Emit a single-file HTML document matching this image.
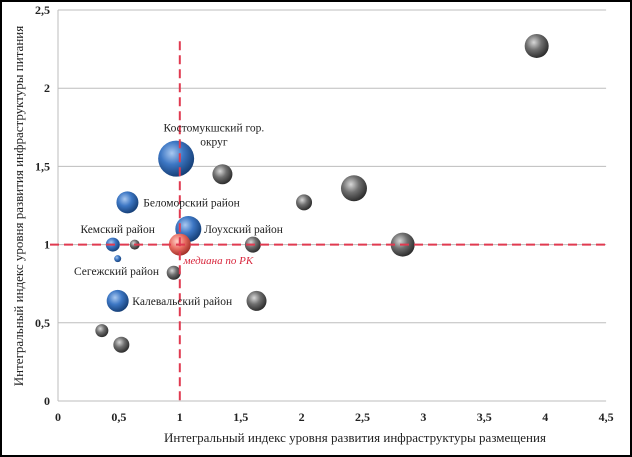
<!DOCTYPE html>
<html><head><meta charset="utf-8">
<style>
html,body{margin:0;padding:0;background:#fff;}
svg{display:block;font-family:"Liberation Serif",serif;}
</style></head>
<body>
<svg id="chart" width="632" height="457" viewBox="0 0 632 457" xmlns="http://www.w3.org/2000/svg">
<defs>
<radialGradient id="gBlue" cx="0.38" cy="0.35" r="0.7">
<stop offset="0" stop-color="#a9c8f0"/><stop offset="0.45" stop-color="#3d77c4"/><stop offset="1" stop-color="#123a70"/></radialGradient>
<radialGradient id="gGrey" cx="0.38" cy="0.35" r="0.7">
<stop offset="0" stop-color="#d8d8d8"/><stop offset="0.45" stop-color="#707070"/><stop offset="1" stop-color="#262626"/></radialGradient>
<radialGradient id="gRed" cx="0.38" cy="0.35" r="0.7">
<stop offset="0" stop-color="#ffd0c8"/><stop offset="0.5" stop-color="#e86b60"/><stop offset="1" stop-color="#9a2a22"/></radialGradient>
</defs>
<rect x="1" y="1" width="630" height="455" fill="#fff" stroke="#000" stroke-width="2"/>
<g id="grid"></g>
<g id="axes"></g>
<g id="bubbles"></g>
<g id="labels"></g>
<text x="355" y="442" font-size="13" text-anchor="middle" fill="#222">Интегральный индекс уровня развития инфраструктуры размещения</text>
<text transform="translate(23,206) rotate(-90)" font-size="13" text-anchor="middle" fill="#222">Интегральный индекс уровня развития инфраструктуры питания</text>
</svg>
<script>
const xTicks=[0,0.5,1,1.5,2,2.5,3,3.5,4,4.5];
const xTickLabels=["0","0,5","1","1,5","2","2,5","3","3,5","4","4,5"];
const yTicks=[0,0.5,1,1.5,2,2.5];
const yTickLabels=["0","0,5","1","1,5","2","2,5"];
const bx=[0.97,1.35,0.57,2.02,2.43,1.07,0.45,0.63,1.6,2.83,0.49,0.95,0.49,1.63,0.36,0.52,3.93,1.0];
const by=[1.55,1.45,1.27,1.27,1.36,1.1,1.0,1.0,1.0,1.0,0.91,0.82,0.64,0.64,0.45,0.36,2.27,1.0];
const bsize=[18,10,11,8,13,13,7,5,8,12,3.5,7,11,10,6.5,8,12,11];
const bkind=["blue","grey","blue","grey","grey","blue","blue","grey","grey","grey","blue","grey","blue","grey","grey","grey","grey","red"];
const labelText=["Костомукшский гор.","округ","Беломорский район","Лоухский район","Кемский район","медиана по РК","Сегежский район","Калевальский район"];
const labelX=[1.28,1.28,0.7,1.2,0.49,1.03,0.83,0.61];
const labelY=[1.75,1.66,1.27,1.1,1.1,0.9,0.83,0.64];
const labelAnchor=["middle","middle","start","start","middle","start","end","start"];
const medianX=1, medianY=1, medianTop=2.3;

const X=v=>58+v*121.8, Y=v=>401-v*156.4;
const NS="http://www.w3.org/2000/svg";
function mk(t,a,p){const e=document.createElementNS(NS,t);for(const k in a)e.setAttribute(k,a[k]);p.appendChild(e);return e;}
const grid=document.getElementById('grid'),axes=document.getElementById('axes'),bub=document.getElementById('bubbles'),lab=document.getElementById('labels');
yTicks.forEach((v,i)=>{
  if(v>0){const l=mk('line',{x1:X(0),x2:X(4.5),y1:Y(v),y2:Y(v),stroke:'#bdbdbd','stroke-width':1},grid);
  
  }
  const t=mk('text',{x:X(0)-8,y:Y(v)+4,'font-size':12,'font-weight':'bold','text-anchor':'end',fill:'#222'},axes);
  t.textContent=yTickLabels[i];
  
  
});
xTicks.forEach((v,i)=>{
  const t=mk('text',{x:X(v),y:Y(0)+20,'font-size':12,'font-weight':'bold','text-anchor':'middle',fill:'#222'},axes);
  t.textContent=xTickLabels[i];
  
  
});
let ax=mk('line',{x1:X(0),x2:X(0),y1:Y(2.5),y2:Y(0),stroke:'#bdbdbd','stroke-width':1},axes);


ax=mk('line',{x1:X(0),x2:X(4.5),y1:Y(0),y2:Y(0),stroke:'#bdbdbd','stroke-width':1},axes);


bx.forEach((v,i)=>{
  const c=mk('circle',{cx:X(v),cy:Y(by[i]),r:bsize[i],fill:'url(#g'+(bkind[i]==='blue'?'Blue':bkind[i]==='red'?'Red':'Grey')+')'},bub);
  
  
});
let m=mk('line',{x1:X(medianX),x2:X(medianX),y1:Y(medianTop),y2:Y(0),stroke:'#e03a50','stroke-width':2,'stroke-dasharray':'9,5'},bub);


m=mk('line',{x1:50,x2:X(4.5)+2,y1:Y(medianY),y2:Y(medianY),stroke:'#e03a50','stroke-width':2,'stroke-dasharray':'9,5'},bub);


labelText.forEach((s,i)=>{
  const red=s==='медиана по РК';
  const t=mk('text',{x:X(labelX[i]),y:Y(labelY[i])+4,'font-size':red?11:11.5,'font-style':red?'italic':'normal','text-anchor':labelAnchor[i],fill:red?'#d8263c':'#222'},lab);
  t.textContent=s;
  
  
});
</script>
</body></html>
